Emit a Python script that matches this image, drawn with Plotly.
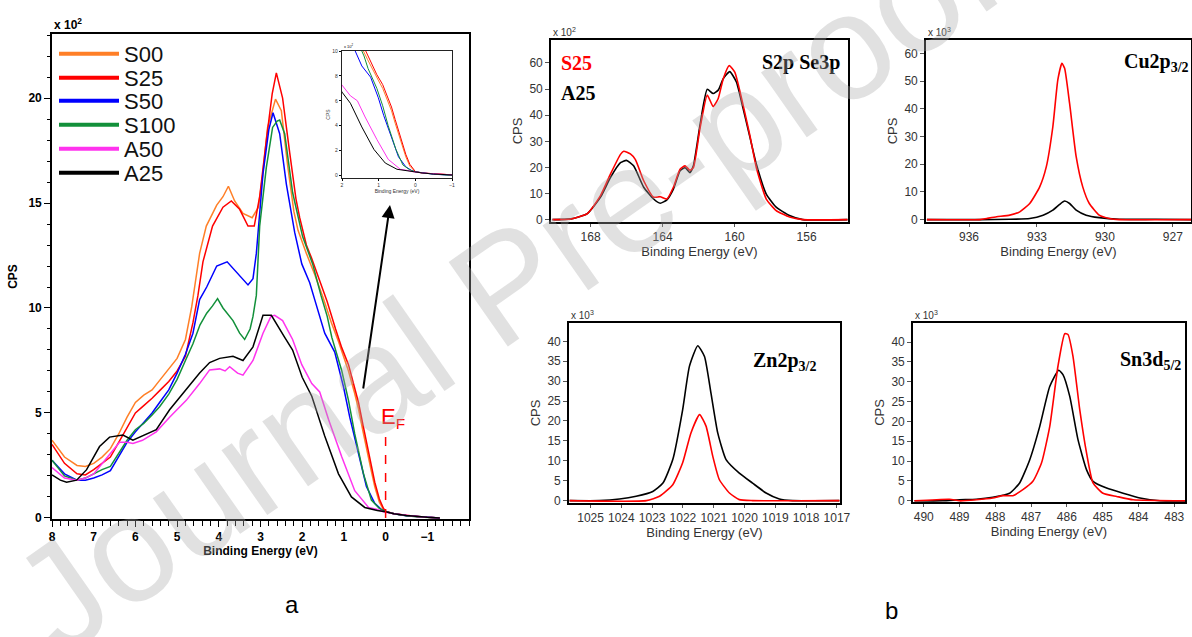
import plotly.graph_objects as go

W, H = 1192, 637

# ---------------- Panel a : valence band spectra (CPS x10^2) ----------------
S00_E = [8.0, 7.7, 7.4, 7.2, 7.0, 6.8, 6.6, 6.4, 6.2, 6.0, 5.8, 5.6, 5.4, 5.2, 5.0, 4.8, 4.65, 4.46, 4.3, 4.05,
         3.9, 3.77, 3.62, 3.42, 3.2, 3.05, 2.95, 2.83, 2.64, 2.5, 2.35, 2.2, 2.1, 1.9, 1.7, 1.5, 1.3, 1.13, 1.0,
         0.89, 0.75, 0.65, 0.55, 0.46, 0.35, 0.26, 0.15, 0.05, 0.0, -0.2, -0.5, -0.8, -1.0, -1.3]
S00_V = [3.7, 2.9, 2.5, 2.45, 2.6, 2.9, 3.3, 4.0, 4.8, 5.5, 5.85, 6.1, 6.6, 7.1, 7.6, 8.5, 10.05, 12.6, 13.9, 14.9,
         15.3, 15.8, 15.1, 14.5, 14.3, 14.8, 16.3, 18.6, 19.95, 19.4, 16.8, 14.6, 13.7, 12.6, 11.6, 10.5, 9.3, 8.4, 7.6,
         7.0, 6.0, 5.2, 4.2, 3.3, 2.3, 1.5, 0.75, 0.4, 0.3, 0.2, 0.12, 0.06, 0.03, 0.0]

S25_E = [8.0, 7.7, 7.4, 7.2, 7.0, 6.8, 6.6, 6.4, 6.2, 6.0, 5.8, 5.6, 5.4, 5.2, 5.0, 4.8, 4.62, 4.5, 4.38, 4.15,
         3.9, 3.7, 3.5, 3.3, 3.15, 3.02, 2.86, 2.72, 2.62, 2.47, 2.3, 2.15, 2.06, 1.9, 1.78, 1.53, 1.4, 1.2, 1.05,
         0.89, 0.75, 0.65, 0.55, 0.46, 0.35, 0.26, 0.15, 0.05, 0.0, -0.2, -0.5, -0.8, -1.0, -1.3]
S25_V = [3.5, 2.6, 2.1, 2.05, 2.3, 2.6, 2.9, 3.6, 4.3, 5.0, 5.35, 5.7, 6.1, 6.5, 7.0, 7.7, 9.3, 10.6, 12.2, 13.9,
         14.8, 15.1, 14.7, 13.9, 13.9, 15.3, 18.0, 20.2, 21.2, 20.0, 17.4, 15.2, 14.3, 13.0, 12.4, 11.0, 10.3, 9.0, 8.1,
         7.3, 6.3, 5.5, 4.5, 3.6, 2.5, 1.7, 0.9, 0.45, 0.32, 0.2, 0.12, 0.06, 0.03, 0.0]

S50_E = [8.0, 7.7, 7.4, 7.2, 7.0, 6.8, 6.6, 6.4, 6.2, 6.0, 5.8, 5.6, 5.42, 5.2, 5.0, 4.8, 4.62, 4.46, 4.29, 4.05,
         3.8, 3.57, 3.3, 3.18, 3.1, 2.94, 2.8, 2.7, 2.54, 2.38, 2.18, 2.01, 1.82, 1.7, 1.46, 1.22, 1.01, 0.86,
         0.65, 0.46, 0.26, 0.1, 0.0, -0.2, -0.5, -0.8, -1.0, -1.3]
S50_V = [2.75, 2.1, 1.8, 1.8, 1.9, 2.05, 2.25, 2.9, 3.6, 4.1, 4.55, 5.0, 5.5, 6.1, 6.9, 7.8, 8.8, 10.4, 11.0, 12.0,
         12.2, 11.7, 11.1, 11.4, 12.6, 16.4, 18.5, 19.3, 18.3, 15.9, 13.6, 12.1, 11.2, 10.4, 8.8, 7.9, 6.25, 4.8,
         3.1, 1.5, 0.7, 0.4, 0.3, 0.2, 0.1, 0.05, 0.02, 0.0]

S100_E = [8.0, 7.7, 7.4, 7.2, 7.0, 6.8, 6.6, 6.4, 6.2, 6.0, 5.8, 5.6, 5.42, 5.2, 5.0, 4.8, 4.62, 4.45, 4.29, 4.15,
          4.03, 3.9, 3.66, 3.5, 3.38, 3.25, 3.18, 3.1, 3.02, 2.86, 2.71, 2.6, 2.54, 2.42, 2.23, 1.99, 1.75, 1.55,
          1.4, 1.29, 1.05, 0.89, 0.74, 0.53, 0.34, 0.15, 0.0, -0.2, -0.5, -0.8, -1.0, -1.3]
S100_V = [2.75, 2.0, 1.8, 1.9, 2.1, 2.3, 2.45, 3.1, 3.7, 4.2, 4.5, 4.9, 5.3, 5.9, 6.6, 7.5, 8.3, 9.2, 9.75, 10.1,
          10.45, 10.0, 9.4, 8.8, 8.5, 9.0, 9.6, 10.6, 13.9, 16.7, 18.6, 18.9, 18.95, 18.3, 15.5, 13.4, 12.1, 10.6,
          9.6, 8.6, 7.0, 5.6, 4.0, 2.1, 0.85, 0.45, 0.3, 0.2, 0.1, 0.05, 0.02, 0.0]

A50_E = [8.0, 7.7, 7.4, 7.2, 7.0, 6.8, 6.6, 6.38, 6.2, 6.06, 5.83, 5.5, 5.18, 4.78, 4.46, 4.22, 3.98, 3.85, 3.74,
         3.55, 3.42, 3.18, 2.94, 2.75, 2.66, 2.47, 2.23, 2.01, 1.77, 1.58, 1.37, 1.05, 0.74, 0.41, 0.2, 0.06,
         -0.2, -0.5, -0.8, -1.0, -1.3]
A50_V = [2.4, 1.9, 1.8, 1.9, 2.1, 2.6, 3.1, 3.6, 3.6, 3.55, 3.7, 4.1, 4.8, 5.6, 6.4, 7.05, 7.1, 7.0, 7.2,
         6.9, 6.8, 7.5, 8.8, 9.6, 9.65, 9.4, 8.5, 7.3, 6.4, 6.0, 4.7, 2.9, 1.3, 0.5, 0.4, 0.3,
         0.2, 0.12, 0.06, 0.03, 0.0]

A25_E = [8.0, 7.8, 7.65, 7.41, 7.17, 6.86, 6.62, 6.3, 6.06, 5.83, 5.5, 5.18, 4.78, 4.46, 4.22, 3.98, 3.66, 3.42,
         3.18, 2.94, 2.74, 2.54, 2.42, 2.23, 2.09, 2.0, 1.77, 1.46, 1.13, 0.82, 0.5, 0.2, 0.0, -0.2, -0.5, -0.8,
         -1.0, -1.3]
A25_V = [2.05, 1.8, 1.7, 1.8, 2.3, 3.4, 3.85, 3.95, 3.7, 3.9, 4.2, 5.15, 6.1, 6.9, 7.4, 7.6, 7.7, 7.5,
         8.15, 9.65, 9.65, 8.95, 8.6, 8.0, 7.2, 6.7, 5.8, 3.9, 2.1, 1.0, 0.5, 0.35, 0.3, 0.2, 0.12, 0.06,
         0.03, 0.0]

SERIES_NAMES = ["S00", "S25", "S50", "S100", "A50", "A25"]
SERIES_COLORS = ["#ff7f27", "#ff0000", "#0000ff", "#12903a", "#ff33ee", "#000000"]
SERIES_E = [S00_E, S25_E, S50_E, S100_E, A50_E, A25_E]
SERIES_V = [S00_V, S25_V, S50_V, S100_V, A50_V, A25_V]

EF_E = [0.0, 0.0]
EF_V = [0.0, 4.2]

A_XTICKS = [8, 7, 6, 5, 4, 3, 2, 1, 0, -1]
A_YTICKS = [0, 5, 10, 15, 20]
INSET_XTICKS = [2, 1, 0, -1]
INSET_YTICKS = [0, 2, 4, 6, 8, 10]

# ---------------- Panel b : core levels (S25 red, A25 black) ----------------
S2P_S25_E = [170.12, 169.10, 168.18, 167.45, 166.90, 166.34, 166.16, 165.79, 165.51, 165.05, 164.50, 164.13,
             163.76, 163.40, 163.03, 162.75, 162.48, 162.29, 161.92, 161.52, 161.19, 160.91, 160.63, 160.30,
             159.99, 159.53, 159.16, 158.79, 158.24, 157.69, 156.95, 156.21, 153.73]
S2P_S25_V = [0.0, 0.25, 2.3, 9.2, 17.4, 25.0, 26.2, 25.2, 23.0, 14.9, 8.6, 8.8,
             7.9, 12.4, 19.3, 20.6, 18.9, 19.9, 35.1, 47.7, 43.3, 46.4, 54.0, 59.0,
             56.5, 43.9, 32.5, 19.9, 7.9, 3.5, 1.0, 0.0, 0.0]
S2P_A25_E = [170.12, 169.10, 168.18, 167.45, 166.90, 166.34, 166.01, 165.61, 165.05, 164.50, 164.13, 163.76,
             163.40, 163.03, 162.75, 162.48, 162.29, 161.92, 161.52, 161.19, 160.91, 160.63, 160.27, 159.90,
             159.53, 159.16, 158.79, 158.24, 157.69, 156.95, 156.21, 153.73]
S2P_A25_V = [0.0, 0.3, 2.3, 8.6, 16.1, 21.8, 22.7, 20.6, 12.4, 7.9, 6.3, 7.6,
             11.7, 18.7, 19.9, 18.0, 20.6, 36.3, 49.9, 48.3, 49.6, 54.0, 56.7, 52.7,
             42.6, 31.9, 21.2, 9.8, 4.8, 1.6, 0.0, 0.0]

CU_S25_E = [937.86, 935.52, 935.22, 934.78, 934.20, 933.76, 933.32, 932.88, 932.59, 932.30, 932.08, 931.90,
            931.78, 931.56, 931.27, 930.98, 930.69, 930.25, 929.81, 929.37, 926.20]
CU_S25_V = [0.0, 0.0, 0.4, 1.0, 1.6, 2.8, 5.8, 11.8, 19.0, 33.5, 50.4, 56.4,
            54.6, 41.9, 22.7, 11.8, 5.8, 1.6, 0.4, 0.0, 0.0]
CU_A25_E = [937.86, 935.52, 934.20, 933.32, 932.73, 932.30, 932.00, 931.78, 931.56, 931.27, 930.83, 930.25,
            929.37, 927.76, 926.20]
CU_A25_V = [0.0, 0.0, 0.1, 0.4, 1.6, 3.4, 5.5, 6.7, 5.8, 3.4, 1.6, 0.7,
            0.1, 0.1, 0.0]

ZN_S25_E = [1025.68, 1023.19, 1022.76, 1022.33, 1022.01, 1021.74, 1021.46, 1021.25, 1021.03, 1020.82,
            1020.49, 1020.17, 1019.74, 1016.92]
ZN_S25_V = [0.0, 0.0, 1.1, 4.0, 9.5, 17.0, 21.6, 18.7, 11.1, 5.3, 1.9, 0.25, 0.0, 0.0]
ZN_A25_E = [1025.68, 1024.71, 1024.06, 1023.52, 1022.98, 1022.65, 1022.33, 1022.01, 1021.79, 1021.52,
            1021.30, 1021.09, 1020.87, 1020.60, 1020.17, 1019.74, 1019.30, 1018.87, 1018.44, 1016.92]
ZN_A25_V = [0.0, 0.0, 0.4, 1.1, 2.3, 4.4, 10.3, 22.8, 33.7, 38.9, 36.2, 27.0, 17.0, 10.3, 6.9, 4.4,
            1.9, 0.4, 0.0, 0.0]

SN_S25_E = [490.26, 489.28, 489.00, 488.53, 488.07, 487.79, 487.51, 487.23, 486.95, 486.71, 486.48, 486.25,
            486.06, 485.97, 485.83, 485.64, 485.45, 485.27, 484.99, 484.61, 484.15, 482.60]
SN_S25_V = [0.0, 0.4, 0.0, 0.25, 0.7, 1.3, 1.3, 2.8, 4.9, 9.5, 18.7, 33.9,
            42.1, 41.9, 36.4, 22.9, 12.0, 4.5, 1.9, 1.1, 0.25, 0.0]
SN_A25_E = [490.26, 489.47, 489.00, 488.53, 488.07, 487.60, 487.32, 487.04, 486.76, 486.48, 486.23, 486.11,
            485.92, 485.69, 485.45, 485.27, 484.89, 484.43, 483.96, 483.40, 482.60]
SN_A25_V = [0.0, 0.0, 0.25, 0.4, 0.9, 1.9, 4.5, 10.3, 18.7, 28.8, 32.9, 31.8,
            26.3, 15.4, 7.8, 4.9, 3.2, 1.9, 0.7, 0.0, 0.0]

CORE_PANELS = [
    dict(name="S2p Se3p", label="<b>S2p Se3p</b>", s25=(S2P_S25_E, S2P_S25_V), a25=(S2P_A25_E, S2P_A25_V),
         xticks=[168, 164, 160, 156], yticks=[0, 10, 20, 30, 40, 50, 60], scale="x 10<sup>2</sup>"),
    dict(name="Cu2p3/2", label="<b>Cu2p<sub>3/2</sub></b>", s25=(CU_S25_E, CU_S25_V), a25=(CU_A25_E, CU_A25_V),
         xticks=[936, 933, 930, 927], yticks=[0, 10, 20, 30, 40, 50, 60], scale="x 10<sup>3</sup>"),
    dict(name="Zn2p3/2", label="<b>Zn2p<sub>3/2</sub></b>", s25=(ZN_S25_E, ZN_S25_V), a25=(ZN_A25_E, ZN_A25_V),
         xticks=[1025, 1024, 1023, 1022, 1021, 1020, 1019, 1018, 1017], yticks=[0, 5, 10, 15, 20, 25, 30, 35, 40],
         scale="x 10<sup>3</sup>"),
    dict(name="Sn3d5/2", label="<b>Sn3d<sub>5/2</sub></b>", s25=(SN_S25_E, SN_S25_V), a25=(SN_A25_E, SN_A25_V),
         xticks=[490, 489, 488, 487, 486, 485, 484, 483], yticks=[0, 5, 10, 15, 20, 25, 30, 35, 40],
         scale="x 10<sup>3</sup>"),
]

# ---------------- layout geometry (pixels) ----------------
def fx(p):
    return p / W

def fy(p):
    return 1 - p / H

SANS = "Arial, Liberation Sans, sans-serif"
SERIF = "Times New Roman, Liberation Serif, serif"

fig = go.Figure()

# Panel a main curves and inset
for name, col, E, V in zip(SERIES_NAMES, SERIES_COLORS, SERIES_E, SERIES_V):
    fig.add_trace(go.Scatter(x=E, y=V, mode="lines", line=dict(color=col, width=1.5),
                             showlegend=False, xaxis="x", yaxis="y", hoverinfo="skip"))
    fig.add_trace(go.Scatter(x=E, y=V, mode="lines", line=dict(color=col, width=1),
                             showlegend=False, xaxis="x2", yaxis="y2", hoverinfo="skip"))

# Legend entries (one legend per entry for exact spacing)
LEG_Y = [54, 78, 101, 125, 149, 173]
for i, (name, col) in enumerate(zip(SERIES_NAMES, SERIES_COLORS)):
    lg = "legend" if i == 0 else f"legend{i + 1}"
    fig.add_trace(go.Scatter(x=[None], y=[None], mode="lines", line=dict(color=col, width=4),
                             name=name, showlegend=True, legend=lg, xaxis="x", yaxis="y"))

# Fermi level marker
fig.add_trace(go.Scatter(x=EF_E, y=EF_V, mode="lines", line=dict(color="#ff0000", width=1.5, dash="dash"),
                         showlegend=False, xaxis="x", yaxis="y", hoverinfo="skip"))

# Panel b traces
for k, p in enumerate(CORE_PANELS):
    ax = k + 3
    fig.add_trace(go.Scatter(x=p["a25"][0], y=p["a25"][1], mode="lines", line=dict(color="#000000", width=1.6,
                             shape="spline", smoothing=0.5), showlegend=False, xaxis=f"x{ax}", yaxis=f"y{ax}",
                             hoverinfo="skip"))
    fig.add_trace(go.Scatter(x=p["s25"][0], y=p["s25"][1], mode="lines", line=dict(color="#ff0000", width=1.6,
                             shape="spline", smoothing=0.5), showlegend=False, xaxis=f"x{ax}", yaxis=f"y{ax}",
                             hoverinfo="skip"))

layout = dict(
    template="none",
    width=W, height=H, margin=dict(l=0, r=0, t=0, b=0, autoexpand=False),
    paper_bgcolor="white", plot_bgcolor="white",
    font=dict(family=SANS, color="#000000"),
)

# Panel a axes
layout["xaxis"] = dict(
    domain=[fx(52), fx(469)], range=[8, -2], anchor="y", tickvals=A_XTICKS, automargin=False,
    ticks="outside", ticklen=6, tickwidth=1.3, tickcolor="black",
    minor=dict(dtick=0.2, tick0=0, ticks="outside", ticklen=5, tickwidth=1.3, tickcolor="black", showgrid=False),
    showline=True, mirror=True, linewidth=1.6, linecolor="black", showgrid=False, zeroline=False,
    tickfont=dict(size=12, weight="bold", family=SANS, color="black"),
    title=dict(text="Binding Energy (eV)", font=dict(size=12, weight="bold", family=SANS), standoff=2),
)
layout["yaxis"] = dict(
    domain=[fy(519), fy(34)], range=[-0.05, 23.05], anchor="x", tickvals=A_YTICKS, automargin=False,
    ticks="outside", ticklen=6, tickwidth=1.3, tickcolor="black",
    minor=dict(dtick=1, tick0=0, ticks="outside", ticklen=3, tickwidth=1.3, tickcolor="black", showgrid=False),
    showline=True, mirror=True, linewidth=1.6, linecolor="black", showgrid=False, zeroline=False,
    tickfont=dict(size=12, weight="bold", family=SANS, color="black"),
    title=dict(text="CPS", font=dict(size=12, weight="bold", family=SANS), standoff=8),
)
# Inset axes
layout["xaxis2"] = dict(
    domain=[fx(342), fx(452)], range=[2, -1], anchor="y2", tickvals=INSET_XTICKS, automargin=False,
    ticks="outside", ticklen=2, tickwidth=0.8, tickcolor="black",
    showline=True, mirror=True, linewidth=1.3, linecolor="#222", showgrid=False, zeroline=False,
    tickfont=dict(size=5, family=SANS, color="#333"),
    title=dict(text="Binding Energy (eV)", font=dict(size=5, family=SANS, color="#333"), standoff=1),
)
layout["yaxis2"] = dict(
    domain=[fy(178), fy(51)], range=[-0.2, 10], anchor="x2", tickvals=INSET_YTICKS, automargin=False,
    ticks="outside", ticklen=2, tickwidth=0.8, tickcolor="black",
    showline=True, mirror=True, linewidth=1.3, linecolor="#222", showgrid=False, zeroline=False,
    tickfont=dict(size=5, family=SANS, color="#333"),
    title=dict(text="CPS", font=dict(size=5, family=SANS, color="#333"), standoff=1),
)

# Panel b axes geometry: (left, right, top, bottom) in px and ranges
B_GEOM = [
    dict(x=(551, 848), y=(40, 222), xr=[170.2, 153.7], yr=[-0.9, 68.8]),
    dict(x=(926, 1191), y=(40, 222), xr=[937.9, 926.2], yr=[-0.87, 64.8]),
    dict(x=(569, 840), y=(323, 503), xr=[1025.7, 1016.9], yr=[-0.6, 44.6]),
    dict(x=(913, 1185), y=(323, 502), xr=[490.3, 482.7], yr=[-0.3, 44.8]),
]
for k, (p, g) in enumerate(zip(CORE_PANELS, B_GEOM)):
    ax = k + 3
    layout[f"xaxis{ax}"] = dict(
        domain=[fx(g["x"][0]), fx(g["x"][1])], range=g["xr"], anchor=f"y{ax}", tickvals=p["xticks"],
        automargin=False, ticks="outside", ticklen=3, tickwidth=1, tickcolor="#555",
        showline=True, mirror=True, linewidth=1.6, linecolor="black", showgrid=False, zeroline=False,
        tickfont=dict(size=12, family=SANS, color="#333"),
        title=dict(text="Binding Energy (eV)", font=dict(size=13, family=SANS, color="#333"), standoff=0),
    )
    layout[f"yaxis{ax}"] = dict(
        domain=[fy(g["y"][1]), fy(g["y"][0])], range=g["yr"], anchor=f"x{ax}", tickvals=p["yticks"],
        automargin=False, ticks="outside", ticklen=4, tickwidth=1, tickcolor="#555",
        showline=True, mirror=True, linewidth=1.6, linecolor="black", showgrid=False, zeroline=False,
        tickfont=dict(size=12, family=SANS, color="#333"),
        title=dict(text="CPS", font=dict(size=13, family=SANS, color="#333"), standoff=4),
    )

# Legends
for i, yc in enumerate(LEG_Y):
    lg = "legend" if i == 0 else f"legend{i + 1}"
    layout[lg] = dict(x=fx(54), y=fy(yc), xanchor="left", yanchor="middle", bgcolor="rgba(0,0,0,0)",
                      borderwidth=0, itemwidth=60, font=dict(size=22, family=SANS, color="#111"),
                      tracegroupgap=0)

annotations = []
# scale factor labels
annotations.append(dict(text="<b>x 10<sup>2</sup></b>", xref="paper", yref="paper", x=fx(52), y=fy(34),
                        xanchor="left", yanchor="bottom", showarrow=False, font=dict(size=12, family=SANS)))
annotations.append(dict(text="x 10<sup>2</sup>", xref="paper", yref="paper", x=fx(342), y=fy(51),
                        xanchor="left", yanchor="bottom", showarrow=False, font=dict(size=4, family=SANS)))
for p, g in zip(CORE_PANELS, B_GEOM):
    annotations.append(dict(text=p["scale"], xref="paper", yref="paper", x=fx(g["x"][0]), y=fy(g["y"][0]),
                            xanchor="left", yanchor="bottom", showarrow=False,
                            font=dict(size=10, family=SANS, color="#333")))
# panel b element labels
label_pos = [(842, 63), (1191, 63), (818, 362), (1183, 360)]
for p, (lx, ly) in zip(CORE_PANELS, label_pos):
    annotations.append(dict(text=p["label"], xref="paper", yref="paper", x=fx(lx), y=fy(ly),
                            xanchor="right", yanchor="middle", showarrow=False,
                            font=dict(size=20, family=SERIF, color="#000")))
annotations.append(dict(text="<b>S25</b>", xref="paper", yref="paper", x=fx(559), y=fy(63),
                        xanchor="left", yanchor="middle", showarrow=False,
                        font=dict(size=20, family=SERIF, color="#ff0000")))
annotations.append(dict(text="<b>A25</b>", xref="paper", yref="paper", x=fx(559), y=fy(93),
                        xanchor="left", yanchor="middle", showarrow=False,
                        font=dict(size=20, family=SERIF, color="#000")))
# E_F label
annotations.append(dict(text="E<sub>F</sub>", xref="paper", yref="paper", x=fx(379), y=fy(418),
                        xanchor="left", yanchor="middle", showarrow=False,
                        font=dict(size=22, family=SANS, color="#ff0000")))
# arrow towards inset
annotations.append(dict(text="", xref="paper", yref="paper", x=fx(390), y=fy(205), ax=-27, ay=185,
                        showarrow=True, arrowhead=2, arrowsize=1.3, arrowwidth=2, arrowcolor="#000"))
# panel letters
annotations.append(dict(text="a", xref="paper", yref="paper", x=fx(283), y=fy(620), showarrow=False,
                        font=dict(size=24, family=SANS, color="#000")))
annotations.append(dict(text="b", xref="paper", yref="paper", x=fx(900), y=fy(626), showarrow=False,
                        font=dict(size=24, family=SANS, color="#000")))
# watermark
annotations.append(dict(text="Journal Pre-proof", xref="paper", yref="paper", x=fx(505), y=fy(285),
                        showarrow=False, textangle=-35,
                        font=dict(size=150, family=SANS, color="rgba(170,170,170,0.35)")))
layout["annotations"] = annotations

fig.update_layout(**layout)
# remove the default page margin so the figure sits at the window's top-left corner
fig.write_html("out.html", config={"displayModeBar": False},
               post_script="document.body.style.margin='0px';")
